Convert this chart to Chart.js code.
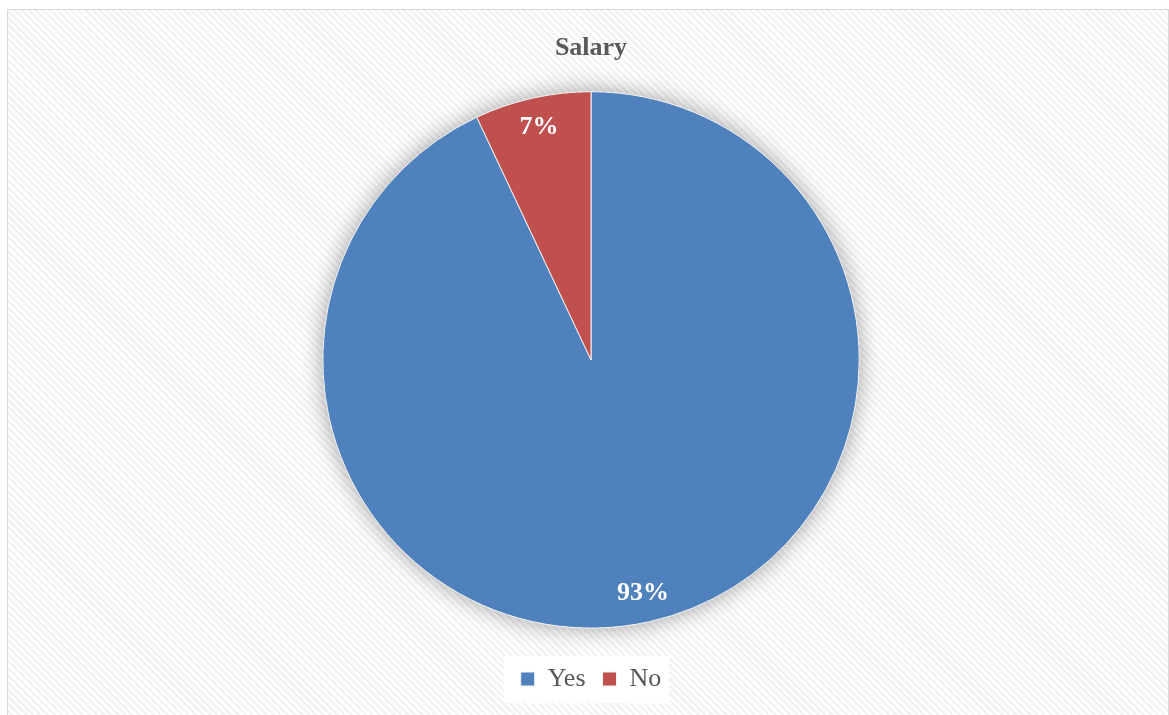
<!DOCTYPE html>
<html>
<head>
<meta charset="utf-8">
<script src="https://cdn.jsdelivr.net/npm/chart.js@4/dist/chart.umd.min.js"></script>
<style>
  html, body { margin: 0; padding: 0; background: #fff; }
  #frame {
    position: absolute; left: 7px; top: 9px; width: 1160px; height: 720px;
    border: 1px solid #d9d9d9;
    background: repeating-linear-gradient(45deg, #ffffff 0px, #ffffff 2.5px, #f3f3f3 2.5px, #f3f3f3 5px);
  }
  #wrap { position: absolute; left: 0; top: 0; width: 1169px; height: 715px; }
</style>
</head>
<body>
<div id="frame"></div>
<div id="wrap"><canvas id="salary-chart"></canvas></div>

<script>
// data
const labelsSalary = ['Yes', 'No'];
const valuesSalary = [93, 7];
const colorsSalary = ['#4F81BD', '#C0504D'];

// soft shadow under the pie
const pieShadow = {
    id: 'pieShadow',
    beforeDatasetsDraw(chart) {
        const arc = chart.getDatasetMeta(0).data[0];
        if (!arc) return;
        const ctx = chart.ctx;
        ctx.save();
        ctx.shadowColor = 'rgba(0,0,0,0.4)';
        ctx.shadowBlur = 24;
        ctx.fillStyle = '#bbbbbb';
        ctx.beginPath();
        ctx.arc(arc.x, arc.y, arc.outerRadius - 1, 0, Math.PI * 2);
        ctx.fill();
        ctx.restore();
    }
};

// percentage labels inside the slices
const sliceLabels = {
    id: 'sliceLabels',
    afterDatasetsDraw(chart) {
        const ctx = chart.ctx;
        const total = valuesSalary.reduce((a, b) => a + b, 0);
        ctx.save();
        ctx.font = 'bold 26px "Liberation Serif", serif';
        ctx.fillStyle = '#ffffff';
        ctx.textAlign = 'center';
        ctx.textBaseline = 'middle';
        chart.getDatasetMeta(0).data.forEach(function(arc, i) {
            const mid = (arc.startAngle + arc.endAngle) / 2;
            const r = arc.outerRadius * 0.89;
            const pct = Math.round(valuesSalary[i] / total * 100) + '%';
            ctx.fillText(pct, arc.x + Math.cos(mid) * r, arc.y + Math.sin(mid) * r);
        });
        ctx.restore();
    }
};

// white box behind the legend
const legendBox = {
    id: 'legendBox',
    beforeDraw(chart) {
        const lg = chart.legend;
        if (!lg || !lg.legendHitBoxes.length) return;
        const boxes = lg.legendHitBoxes;
        const left = boxes[0].left - 17;
        const last = boxes[boxes.length - 1];
        const right = last.left + last.width + 8;
        const cy = boxes[0].top + boxes[0].height / 2;
        const ctx = chart.ctx;
        ctx.save();
        ctx.fillStyle = '#ffffff';
        ctx.fillRect(left, cy - 23, right - left, 47);
        ctx.restore();
    }
};

const ctxSalary = document.getElementById('salary-chart').getContext('2d');
const salaryChart = new Chart(ctxSalary, {
    type: 'pie',
    data: {
        labels: labelsSalary,
        datasets: [{
            data: valuesSalary,
            backgroundColor: colorsSalary,
            borderColor: '#f4f4f4',
            borderWidth: 1
        }]
    },
    options: {
        responsive: true,
        maintainAspectRatio: false,
        animation: false,
        layout: { padding: { top: 0, bottom: 13, left: 13 } },
        plugins: {
            tooltip: { enabled: false },
            title: {
                display: true,
                text: 'Salary',
                color: '#595959',
                font: { family: '"Liberation Serif", serif', size: 26, weight: 'bold' },
                padding: { top: 33, bottom: 27 }
            },
            legend: {
                position: 'bottom',
                title: { display: true, text: '', font: { size: 12 }, padding: { top: 6, bottom: 0 } },
                labels: {
                    color: '#595959',
                    boxWidth: 14,
                    boxHeight: 14,
                    padding: 17,
                    font: { family: '"Liberation Serif", serif', size: 26 }
                }
            }
        }
    },
    plugins: [legendBox, pieShadow, sliceLabels]
});
</script>
</body>
</html>
